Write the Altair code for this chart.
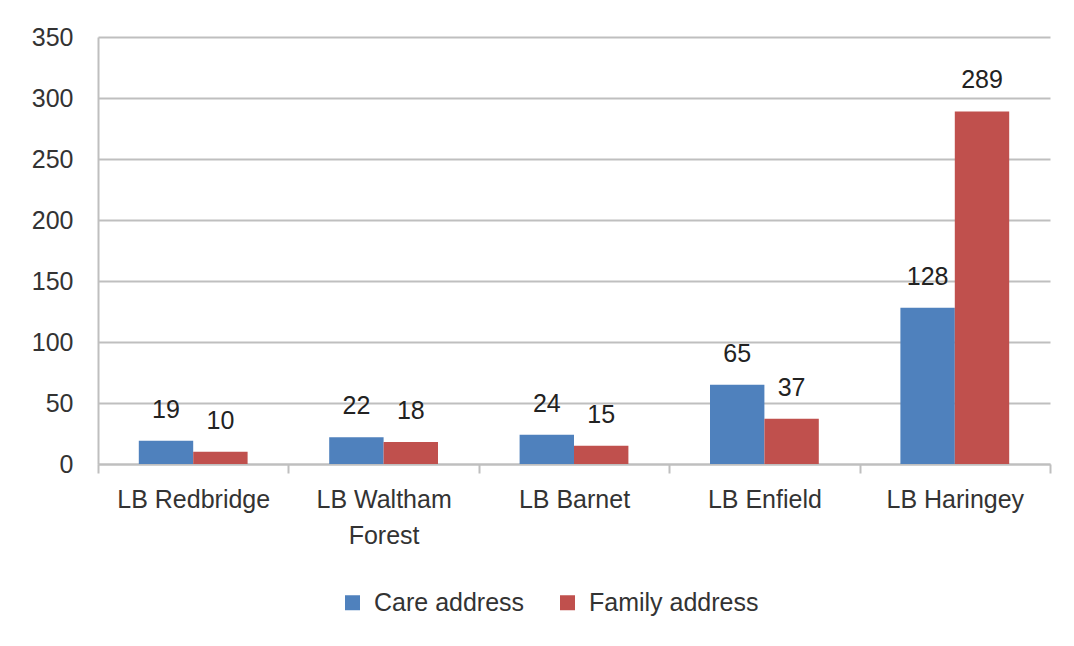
import altair as alt
import pandas as pd

categories = ["LB Redbridge", "LB Waltham Forest", "LB Barnet", "LB Enfield", "LB Haringey"]
series = ["Care address", "Family address"]
care = [19, 22, 24, 65, 128]
family = [10, 18, 15, 37, 289]
y_ticks = [0, 50, 100, 150, 200, 250, 300, 350]

rows = []
for c, a, b in zip(categories, care, family):
    rows.append({"borough": c, "series": series[0], "value": a})
    rows.append({"borough": c, "series": series[1], "value": b})
df = pd.DataFrame(rows)

FONT = "Liberation Sans"
FS = 25

x_enc = alt.X(
    "borough:N",
    sort=categories,
    title=None,
    scale=alt.Scale(paddingInner=0, paddingOuter=0),
    axis=alt.Axis(
        labelAngle=0,
        labelFont=FONT,
        labelFontSize=FS,
        labelColor="#333333",
        labelPadding=14,
        labelLineHeight=36,
        labelLimit=300,
        labelExpr="datum.label == 'LB Waltham Forest' ? ['LB Waltham', 'Forest'] : datum.label",
        domainColor="#bfbfbf",
        domainWidth=2,
        ticks=True,
        tickBand="extent",
        tickSize=9,
        tickColor="#bfbfbf",
        tickWidth=2,
        grid=False,
    ),
)
xoff_enc = alt.XOffset(
    "series:N", sort=series, scale=alt.Scale(paddingInner=0, paddingOuter=0.75)
)
y_enc = alt.Y(
    "value:Q",
    title=None,
    scale=alt.Scale(domain=[0, 350], nice=False),
    axis=alt.Axis(
        values=y_ticks,
        labelFont=FONT,
        labelFontSize=FS,
        labelColor="#333333",
        labelPadding=25,
        ticks=False,
        domainColor="#bfbfbf",
        domainWidth=2,
        gridColor="#bfbfbf",
        gridWidth=2,
    ),
)
color_enc = alt.Color(
    "series:N",
    sort=series,
    scale=alt.Scale(domain=series, range=["#4F81BD", "#C0504D"]),
    legend=alt.Legend(
        title=None,
        orient="none",
        direction="horizontal",
        legendX=242,
        legendY=553,
        symbolType="square",
        symbolSize=225,
        symbolStrokeWidth=0,
        labelFont=FONT,
        labelFontSize=FS,
        labelColor="#333333",
        labelOffset=9,
        labelLimit=400,
        columnPadding=30,
    ),
)

bars = alt.Chart(df).mark_bar().encode(
    x=x_enc,
    xOffset=xoff_enc,
    y=y_enc,
    color=color_enc,
)

labels = alt.Chart(df).mark_text(
    baseline="bottom", dy=-18, font=FONT, fontSize=FS, color="#222222"
).encode(
    x=alt.X("borough:N", sort=categories),
    xOffset=alt.XOffset("series:N", sort=series),
    y="value:Q",
    text="value:Q",
)

chart = (
    alt.layer(bars, labels)
    .properties(
        width=952,
        height=427,
        autosize=alt.AutoSizeParams(type="none"),
        padding={"left": 90, "top": 29, "right": 16, "bottom": 174},
        background="white",
    )
    .configure_view(stroke=None)
)

chart.save("out.html", embed_options={"renderer": "svg", "actions": False})
